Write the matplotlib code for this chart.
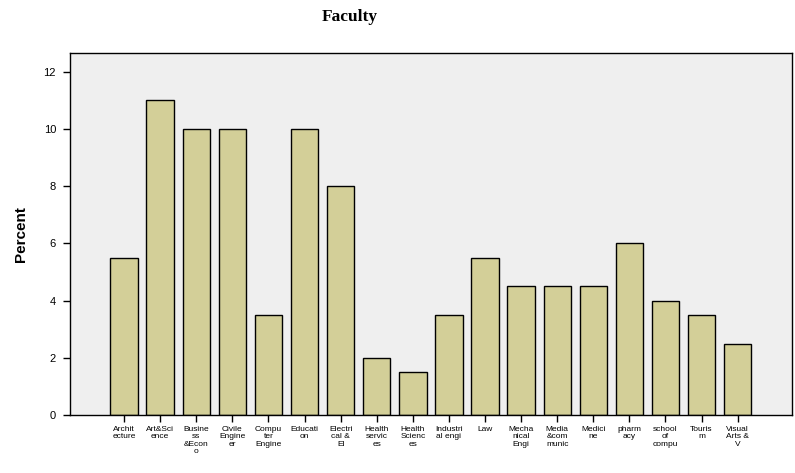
import matplotlib
matplotlib.use("Agg")
import matplotlib.pyplot as plt
import numpy as np

faculties = ["Archit\necture", "Art&Sci\nence", "Busine\nss\n&Econ\no", "Civile\nEngine\ner",
             "Compu\nter\nEngine", "Educati\non", "Electri\ncal &\nEl", "Health\nservic\nes",
             "Health\nScienc\nes", "Industri\nal engi", "Law", "Mecha\nnical\nEngi",
             "Media\n&com\nmunic", "Medici\nne", "pharm\nacy", "school\nof\ncompu",
             "Touris\nm", "Visual\nArts &\nV"]
percent = [5.5, 11, 10, 10, 3.5, 10, 8, 2, 1.5, 3.5, 5.5, 4.5, 4.5, 4.5, 6, 4, 3.5, 2.5]

plt.rcParams['font.family'] = ['Liberation Sans', 'DejaVu Sans']

fig = plt.figure(figsize=(7.95, 4.73), dpi=100)
ax = fig.add_axes([0.088, 0.1226, 0.908, 0.7654])
ax.set_facecolor('#efefef')

x = np.arange(len(percent))
ax.bar(x, percent, width=0.76, color='#d3cf98', edgecolor='black', linewidth=1.0)

ax.set_xlim(-1.5, 18.5)
ax.set_ylim(0, 12.66)
ax.set_yticks([0, 2, 4, 6, 8, 10, 12])
ax.set_xticks(x)
ax.set_xticklabels(faculties, fontsize=6, linespacing=1.05)
ax.tick_params(axis='y', labelsize=8, length=5, width=1, pad=5)
ax.tick_params(axis='x', length=5, width=1, pad=3)
for s in ax.spines.values():
    s.set_linewidth(1.0)

fig.text(0.027, 0.505, 'Percent', rotation=90, fontsize=11, fontweight='bold',
         ha='center', va='center')
fig.text(350/795, 1 - 17/473, 'Faculty', fontsize=12.5, fontweight='bold',
         family=['Liberation Serif', 'DejaVu Serif'], ha='center', va='center')

fig.savefig('out.png', dpi=100)
